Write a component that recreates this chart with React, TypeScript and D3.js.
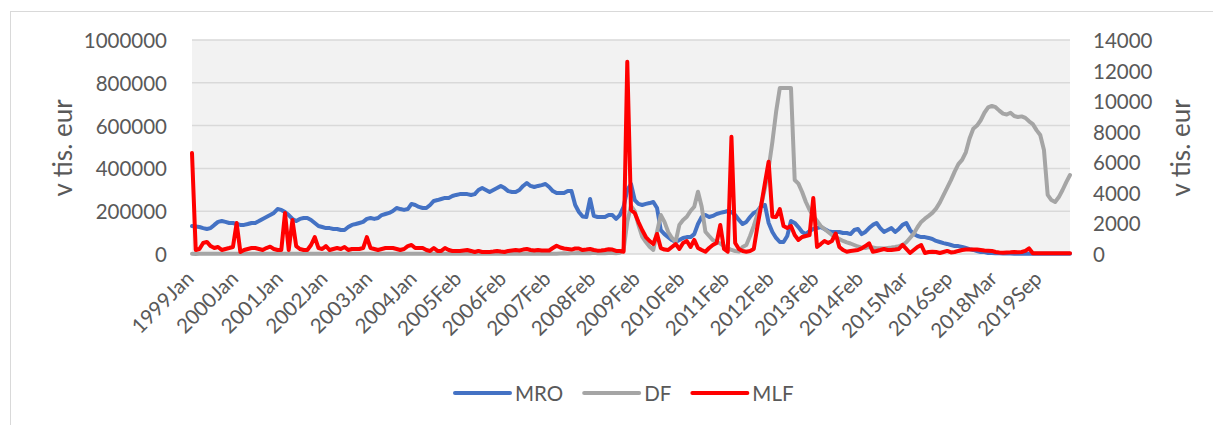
import React, { useEffect, useRef } from 'react';
import * as d3 from 'd3';

// reserve maintenance periods, one label every 12 periods
const tickLabels = [
  '1999Jan', '2000Jan', '2001Jan', '2002Jan', '2003Jan', '2004Jan', '2005Feb',
  '2006Feb', '2007Feb', '2008Feb', '2009Feb', '2010Feb', '2011Feb', '2012Feb',
  '2013Feb', '2014Feb', '2015Mar', '2016Sep', '2018Mar', '2019Sep',
];
const TICK_STEP = 12;

const leftTicks = [0, 200000, 400000, 600000, 800000, 1000000];
const rightTicks = [0, 2000, 4000, 6000, 8000, 10000, 12000, 14000];

// left axis
const mro = [
  131000, 128000, 126000, 121000, 117000, 121000, 136000, 150000, 154000, 150000,
  145000, 145000, 140000, 136000, 136000, 140000, 145000, 145000, 154000, 164000,
  173000, 182000, 192000, 210000, 206000, 196000, 182000, 164000, 154000, 164000,
  168000, 168000, 159000, 145000, 131000, 126000, 121000, 121000, 117000, 117000,
  112000, 112000, 126000, 136000, 140000, 145000, 150000, 164000, 168000, 164000,
  168000, 182000, 187000, 192000, 201000, 215000, 210000, 206000, 210000, 234000,
  229000, 220000, 215000, 215000, 229000, 248000, 252000, 257000, 262000, 262000,
  271000, 276000, 280000, 280000, 280000, 276000, 280000, 299000, 308000, 299000,
  290000, 299000, 308000, 318000, 308000, 294000, 290000, 290000, 299000, 318000,
  332000, 318000, 313000, 318000, 322000, 327000, 313000, 294000, 285000, 285000,
  285000, 294000, 294000, 229000, 196000, 175000, 173000, 257000, 178000, 173000,
  173000, 173000, 182000, 182000, 164000, 182000, 220000, 299000, 327000, 252000,
  234000, 229000, 234000, 238000, 243000, 215000, 112000, 93000, 79000, 65000,
  56000, 65000, 75000, 79000, 79000, 93000, 140000, 173000, 182000, 173000,
  178000, 187000, 192000, 196000, 201000, 196000, 182000, 159000, 140000, 150000,
  173000, 192000, 201000, 224000, 229000, 145000, 103000, 75000, 56000, 56000,
  84000, 154000, 145000, 126000, 103000, 93000, 107000, 117000, 121000, 126000,
  117000, 107000, 103000, 103000, 103000, 98000, 98000, 93000, 112000, 117000,
  93000, 103000, 121000, 136000, 145000, 121000, 103000, 112000, 121000, 103000,
  117000, 136000, 145000, 112000, 93000, 84000, 79000, 79000, 75000, 70000,
  61000, 56000, 51000, 47000, 42000, 37000, 37000, 33000, 28000, 23000,
  19000, 14000, 9000, 9000, 5000, 5000, 3000, 3000, 2000, 2000,
  2000, 1500, 1500, 1500, 1500, 1000, 1000, 1000, 1000, 1000,
  1000, 1000, 1000, 1000, 1000, 1000, 1000,
];

// left axis
const df = [
  1000, 500, 800, 1000, 600, 900, 1200, 700, 1000, 800,
  900, 1100, 700, 1000, 800, 600, 900, 1000, 700, 800,
  1000, 1200, 900, 700, 800, 1000, 1100, 900, 700, 1000,
  800, 600, 900, 1000, 800, 700, 900, 1100, 800, 1000,
  900, 700, 800, 1000, 1200, 800, 600, 900, 1000, 700,
  800, 1000, 900, 700, 1100, 800, 1000, 900, 600, 800,
  1000, 700, 900, 1100, 800, 1000, 700, 900, 1000, 800,
  600, 900, 1000, 700, 800, 1100, 900, 700, 1000, 800,
  900, 1000, 700, 800, 1200, 900, 600, 1000, 800, 900,
  700, 1000, 800, 1100, 900, 700, 1000, 800, 900, 2000,
  3000, 2500, 4000, 3000, 5000, 3500, 4000, 3000, 6000, 4000,
  5000, 3500, 4500, 5000, 4000, 6000, 19000, 150000, 225000, 200000,
  136000, 81000, 56000, 34000, 19000, 103000, 182000, 150000, 103000, 75000,
  57000, 136000, 159000, 174000, 201000, 221000, 291000, 221000, 104000, 84000,
  65000, 56000, 49000, 37000, 28000, 19000, 14000, 11000, 33000, 42000,
  84000, 131000, 187000, 229000, 308000, 402000, 523000, 664000, 776000, 776000,
  776000, 776000, 346000, 329000, 290000, 243000, 206000, 178000, 154000, 131000,
  117000, 103000, 89000, 79000, 70000, 61000, 54000, 49000, 42000, 35000,
  30000, 28000, 33000, 30000, 27000, 27000, 26000, 28000, 30000, 33000,
  37000, 42000, 55000, 75000, 95000, 125000, 150000, 165000, 178000, 192000,
  212000, 240000, 275000, 310000, 345000, 385000, 420000, 440000, 475000, 540000,
  585000, 600000, 625000, 660000, 685000, 692000, 686000, 670000, 656000, 652000,
  660000, 645000, 640000, 643000, 636000, 620000, 607000, 579000, 556000, 486000,
  276000, 252000, 243000, 266000, 299000, 336000, 369000,
];

// right axis
const mlf = [
  6600, 260, 330, 720, 790, 520, 390, 460, 260, 330,
  390, 460, 2030, 130, 260, 330, 390, 390, 330, 260,
  390, 480, 330, 260, 260, 2680, 260, 2220, 520, 330,
  260, 260, 590, 1110, 390, 330, 520, 260, 330, 390,
  330, 460, 260, 330, 330, 330, 390, 1110, 390, 330,
  260, 330, 390, 390, 390, 330, 260, 330, 520, 590,
  390, 390, 390, 260, 200, 390, 200, 200, 390, 260,
  200, 200, 200, 230, 260, 200, 130, 200, 130, 130,
  130, 160, 200, 160, 130, 200, 230, 260, 230, 290,
  330, 260, 230, 260, 230, 230, 230, 390, 540, 425,
  360, 330, 290, 360, 360, 260, 290, 330, 260, 220,
  230, 260, 310, 290, 200, 200, 150, 12580, 2880, 2680,
  2090, 1570, 1110, 850, 650, 1310, 390, 290, 260, 460,
  650, 330, 720, 850, 460, 920, 390, 260, 150, 390,
  590, 720, 1900, 330, 150, 7670, 720, 330, 200, 150,
  200, 330, 1830, 3200, 4640, 6040, 2440, 2420, 2940, 1830,
  1700, 1830, 1240, 920, 1110, 1180, 1240, 3660, 460, 650,
  850, 720, 850, 1340, 460, 260, 150, 200, 230, 260,
  370, 520, 700, 150, 200, 260, 330, 260, 260, 290,
  330, 590, 330, 65, 260, 460, 590, 65, 130, 150,
  130, 65, 130, 200, 100, 130, 200, 260, 290, 290,
  290, 290, 260, 230, 220, 200, 130, 100, 85, 100,
  110, 130, 110, 130, 200, 370, 45, 45, 45, 45,
  45, 45, 45, 45, 45, 45, 45,
];

const FONT = 'Lato, "Open Sans", sans-serif';
const TEXT = '#595959';

export default function App() {
  const svgRef = useRef<SVGSVGElement>(null);

  useEffect(() => {
    if (!svgRef.current) return;
    const svg = d3.select(svgRef.current);
    svg.selectAll('*').remove();

    const plot = { left: 192, right: 1070, top: 40, bottom: 254 };
    const n = mro.length;

    const x = d3.scaleLinear().domain([0, n - 1]).range([plot.left, plot.right]);
    const yLeft = d3.scaleLinear().domain([0, 1000000]).range([plot.bottom, plot.top]);
    const yRight = d3.scaleLinear().domain([0, 14000]).range([plot.bottom, plot.top]);

    // chart frame
    svg.append('rect')
      .attr('x', 10.5).attr('y', 11.5)
      .attr('width', 1240).attr('height', 440)
      .attr('fill', '#fff').attr('stroke', '#d9d9d9');

    // plot area
    svg.append('rect')
      .attr('x', plot.left).attr('y', plot.top)
      .attr('width', plot.right - plot.left).attr('height', plot.bottom - plot.top)
      .attr('fill', '#f2f2f2');

    svg.append('g')
      .selectAll('line')
      .data(leftTicks)
      .join('line')
      .attr('x1', plot.left).attr('x2', plot.right)
      .attr('y1', d => yLeft(d)).attr('y2', d => yLeft(d))
      .attr('stroke', '#d9d9d9').attr('stroke-width', 1.5);

    // left tick labels
    svg.append('g')
      .selectAll('text')
      .data(leftTicks)
      .join('text')
      .attr('x', 167).attr('y', d => yLeft(d))
      .attr('text-anchor', 'end').attr('dominant-baseline', 'central')
      .attr('font-family', FONT).attr('font-size', 20.5).attr('fill', TEXT)
      .text(d => String(d));

    // right tick labels
    svg.append('g')
      .selectAll('text')
      .data(rightTicks)
      .join('text')
      .attr('x', 1093).attr('y', d => yRight(d))
      .attr('text-anchor', 'start').attr('dominant-baseline', 'central')
      .attr('font-family', FONT).attr('font-size', 20.5).attr('fill', TEXT)
      .text(d => String(d));

    // category labels
    svg.append('g')
      .selectAll('text')
      .data(tickLabels)
      .join('text')
      .attr('transform', (d, k) => `translate(${x(k * TICK_STEP) + 3},${280}) rotate(-45)`)
      .attr('text-anchor', 'end')
      .attr('font-family', FONT).attr('font-size', 20.5).attr('fill', TEXT)
      .text(d => d);

    // axis titles
    [62, 1180].forEach(cx => {
      svg.append('text')
        .attr('transform', `translate(${cx},148) rotate(-90)`)
        .attr('text-anchor', 'middle').attr('dominant-baseline', 'central')
        .attr('font-family', FONT).attr('font-size', 26).attr('fill', TEXT)
        .text('v tis. eur');
    });

    const lineLeft = d3.line<number>().x((d, i) => x(i)).y(d => yLeft(d));
    const lineRight = d3.line<number>().x((d, i) => x(i)).y(d => yRight(d));

    const series = [
      { name: 'MRO', color: '#4472c4', path: lineLeft(mro) },
      { name: 'DF', color: '#a5a5a5', path: lineLeft(df) },
      { name: 'MLF', color: '#ff0000', path: lineRight(mlf) },
    ];

    series.forEach(s => {
      svg.append('path')
        .attr('d', s.path)
        .attr('fill', 'none')
        .attr('stroke', s.color)
        .attr('stroke-width', 4)
        .attr('stroke-linejoin', 'round')
        .attr('stroke-linecap', 'round');
    });

    // legend
    let lx = 455;
    const ly = 393;
    series.forEach(s => {
      svg.append('line')
        .attr('x1', lx).attr('x2', lx + 55)
        .attr('y1', ly).attr('y2', ly)
        .attr('stroke', s.color).attr('stroke-width', 4)
        .attr('stroke-linecap', 'round');
      const t = svg.append('text')
        .attr('x', lx + 60).attr('y', ly)
        .attr('dominant-baseline', 'central')
        .attr('font-family', FONT).attr('font-size', 20.5).attr('fill', TEXT)
        .text(s.name);
      const w = (t.node() as SVGTextElement).getComputedTextLength();
      lx = lx + 60 + w + 21;
    });
  }, []);

  return (
    <div style={{ position: 'absolute', left: 0, top: 0 }}>
      <svg ref={svgRef} width={1213} height={425} style={{ display: 'block' }} />
    </div>
  );
}
